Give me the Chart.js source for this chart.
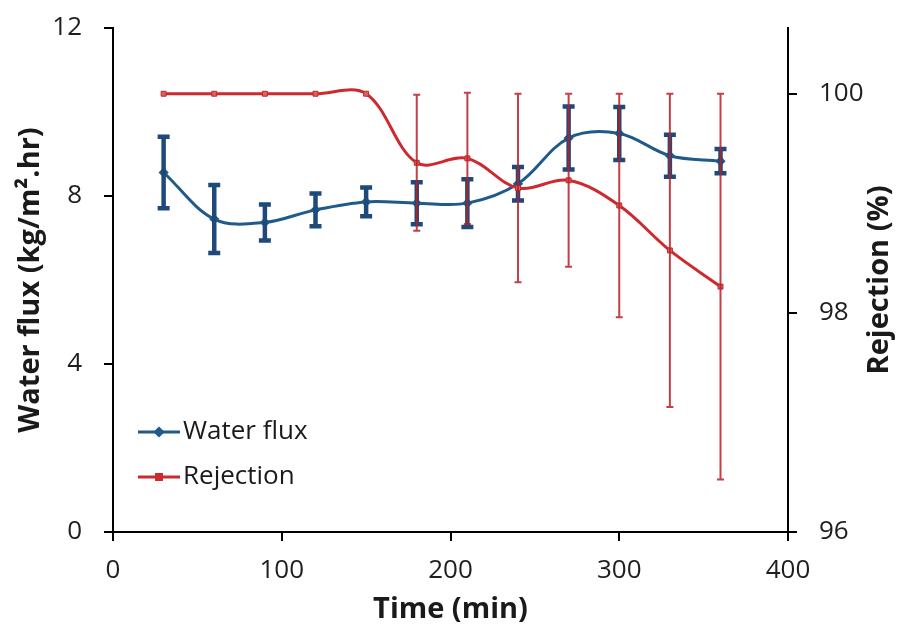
<!DOCTYPE html>
<html>
<head>
<meta charset="utf-8">
<script src="https://cdn.jsdelivr.net/npm/chart.js@4"></script>
<style>
  html, body { margin: 0; padding: 0; background: #fff; }
  #wrap { width: 897px; height: 632px; position: relative; }
</style>
</head>
<body>
<div id="wrap"><canvas id="fluxChart"></canvas></div>
<script>
// time points (min)
const times = [30, 60, 90, 120, 150, 180, 210, 240, 270, 300, 330, 360];
// water flux (kg/m2.hr) and its error
const flux = [8.56, 7.45, 7.37, 7.67, 7.86, 7.83, 7.83, 8.29, 9.38, 9.49, 8.96, 8.83];
const fluxErr = [0.85, 0.81, 0.43, 0.39, 0.34, 0.5, 0.57, 0.4, 0.75, 0.63, 0.5, 0.29];
// rejection (%) and its error
const rejection = [100, 100, 100, 100, 100, 99.37, 99.41, 99.14, 99.21, 98.98, 98.57, 98.24];
const rejectionErr = [0, 0, 0, 0, 0, 0.62, 0.6, 0.86, 0.79, 1.02, 1.43, 1.76];

const xTicks = [0, 100, 200, 300, 400];
const fluxTicks = [0, 4, 8, 12];
const rejTicks = [96, 98, 100];

const FONT = "'Open Sans', 'DejaVu Sans', sans-serif";
const BLUE = "#1f5a8a";
const RED = "#cc2a2f";

function toPoints(values) {
  return times.map((t, i) => ({ x: t, y: values[i] }));
}

// error bars drawn right after their own series, through the chart scales
const errorBars = {
  id: "errorBars",
  afterDatasetDraw(chart, args) {
    const ds = chart.data.datasets[args.index];
    if (!ds.errors) {
      return;
    }
    const ctx = chart.ctx;
    const xs = chart.scales.x;
    const ys = chart.scales[ds.yAxisID];
    ctx.save();
    ctx.strokeStyle = ds.errorColor;
    ctx.lineWidth = ds.errorWidth;
    ds.data.forEach((p, i) => {
      const e = ds.errors[i];
      if (!e) {
        return;
      }
      const px = xs.getPixelForValue(p.x);
      const top = ys.getPixelForValue(p.y + e);
      const bot = ys.getPixelForValue(p.y - e);
      const half = ds.capWidth / 2;
      ctx.beginPath();
      ctx.moveTo(px, top);
      ctx.lineTo(px, bot);
      ctx.moveTo(px - half, top);
      ctx.lineTo(px + half, top);
      ctx.moveTo(px - half, bot);
      ctx.lineTo(px + half, bot);
      ctx.stroke();
    });
    ctx.restore();
  },
};

// in-plot legend and right-hand title (reads bottom to top)
const extras = {
  id: "extras",
  afterDraw(chart) {
    const ctx = chart.ctx;
    const area = chart.chartArea;
    ctx.save();

    const items = [
      { label: "Water flux", color: BLUE, style: "rectRot", y: 432 },
      { label: "Rejection", color: RED, style: "rect", y: 477 },
    ];
    items.forEach((it) => {
      const x0 = area.left + 25;
      ctx.strokeStyle = it.color;
      ctx.lineWidth = 3;
      ctx.beginPath();
      ctx.moveTo(x0, it.y);
      ctx.lineTo(x0 + 42, it.y);
      ctx.stroke();
      Chart.helpers.drawPoint(ctx, {
        pointStyle: it.style,
        radius: 3.5,
        borderWidth: 1,
      }, x0 + 21, it.y);
      ctx.fillStyle = it.color;
      ctx.fill();
      ctx.fillStyle = "#1a1a1a";
      ctx.font = "26px " + FONT;
      ctx.textAlign = "left";
      ctx.textBaseline = "middle";
      ctx.fillText(it.label, x0 + 45, it.y);
    });

    const y2 = chart.scales.y2;
    ctx.translate(y2.right - 17, (area.top + area.bottom) / 2);
    ctx.rotate(-Math.PI / 2);
    ctx.font = "bold 29px " + FONT;
    ctx.fillStyle = "#1a1a1a";
    ctx.textAlign = "center";
    ctx.textBaseline = "middle";
    ctx.fillText("Rejection (%)", 0, 0);
    ctx.restore();
  },
};

function axisGrid() {
  return {
    drawOnChartArea: false,
    drawTicks: true,
    tickLength: 9,
    color: "#000",
    lineWidth: 2,
  };
}

function fitY(width) {
  return (s) => {
    s.width = width;
    s.paddingTop = 0;
    s.paddingBottom = 0;
  };
}

new Chart(document.getElementById("fluxChart"), {
  type: "line",
  data: {
    datasets: [
      {
        label: "Rejection",
        data: toPoints(rejection),
        yAxisID: "y2",
        order: 0,
        borderColor: RED,
        borderWidth: 3,
        pointStyle: "rect",
        pointRadius: 3.5,
        pointBackgroundColor: "#d9625e",
        pointBorderColor: "#c0282d",
        pointBorderWidth: 1,
        tension: 0.35,
        errors: rejectionErr,
        errorColor: "rgba(185, 30, 40, 0.85)",
        errorWidth: 2,
        capWidth: 7,
      },
      {
        label: "Water flux",
        data: toPoints(flux),
        yAxisID: "y",
        order: 1,
        borderColor: BLUE,
        borderWidth: 3,
        pointStyle: "rectRot",
        pointRadius: 3,
        pointBackgroundColor: BLUE,
        pointBorderColor: BLUE,
        tension: 0.35,
        errors: fluxErr,
        errorColor: "#1d4a78",
        errorWidth: 4.5,
        capWidth: 12,
      },
    ],
  },
  options: {
    responsive: true,
    maintainAspectRatio: false,
    animation: false,
    layout: { padding: { top: 28, left: 0, right: 0, bottom: 0 } },
    plugins: {
      legend: { display: false },
      tooltip: { enabled: false },
    },
    scales: {
      x: {
        type: "linear",
        min: 0,
        max: 400,
        afterBuildTicks: (s) => { s.ticks = xTicks.map((v) => ({ value: v })); },
        afterFit: (s) => {
          s.height = 100;
          s.paddingLeft = 0;
          s.paddingRight = 0;
        },
        grid: axisGrid(),
        border: { display: true, color: "#000", width: 2 },
        ticks: { color: "#1e1e1e", padding: 14, font: { family: FONT, size: 26 } },
        title: {
          display: true,
          text: "Time (min)",
          color: "#1a1a1a",
          padding: { top: 0, bottom: 5 },
          font: { family: FONT, size: 29, weight: "bold" },
        },
      },
      y: {
        position: "left",
        min: 0,
        max: 12,
        afterBuildTicks: (s) => { s.ticks = fluxTicks.map((v) => ({ value: v })); },
        afterFit: fitY(113),
        grid: axisGrid(),
        border: { display: true, color: "#000", width: 2 },
        ticks: { color: "#1e1e1e", padding: 22, font: { family: FONT, size: 26 } },
        title: {
          display: true,
          text: "Water flux (kg/m\u00b2.hr)",
          color: "#1a1a1a",
          padding: { top: 13, bottom: 0 },
          font: { family: FONT, size: 29, weight: "bold" },
        },
      },
      y2: {
        position: "right",
        min: 96,
        max: 100.6,
        afterBuildTicks: (s) => { s.ticks = rejTicks.map((v) => ({ value: v })); },
        afterFit: fitY(109),
        grid: axisGrid(),
        border: { display: true, color: "#000", width: 2 },
        ticks: { color: "#1e1e1e", padding: 22, font: { family: FONT, size: 26 } },
      },
    },
  },
  plugins: [errorBars, extras],
});
</script>
</body>
</html>
